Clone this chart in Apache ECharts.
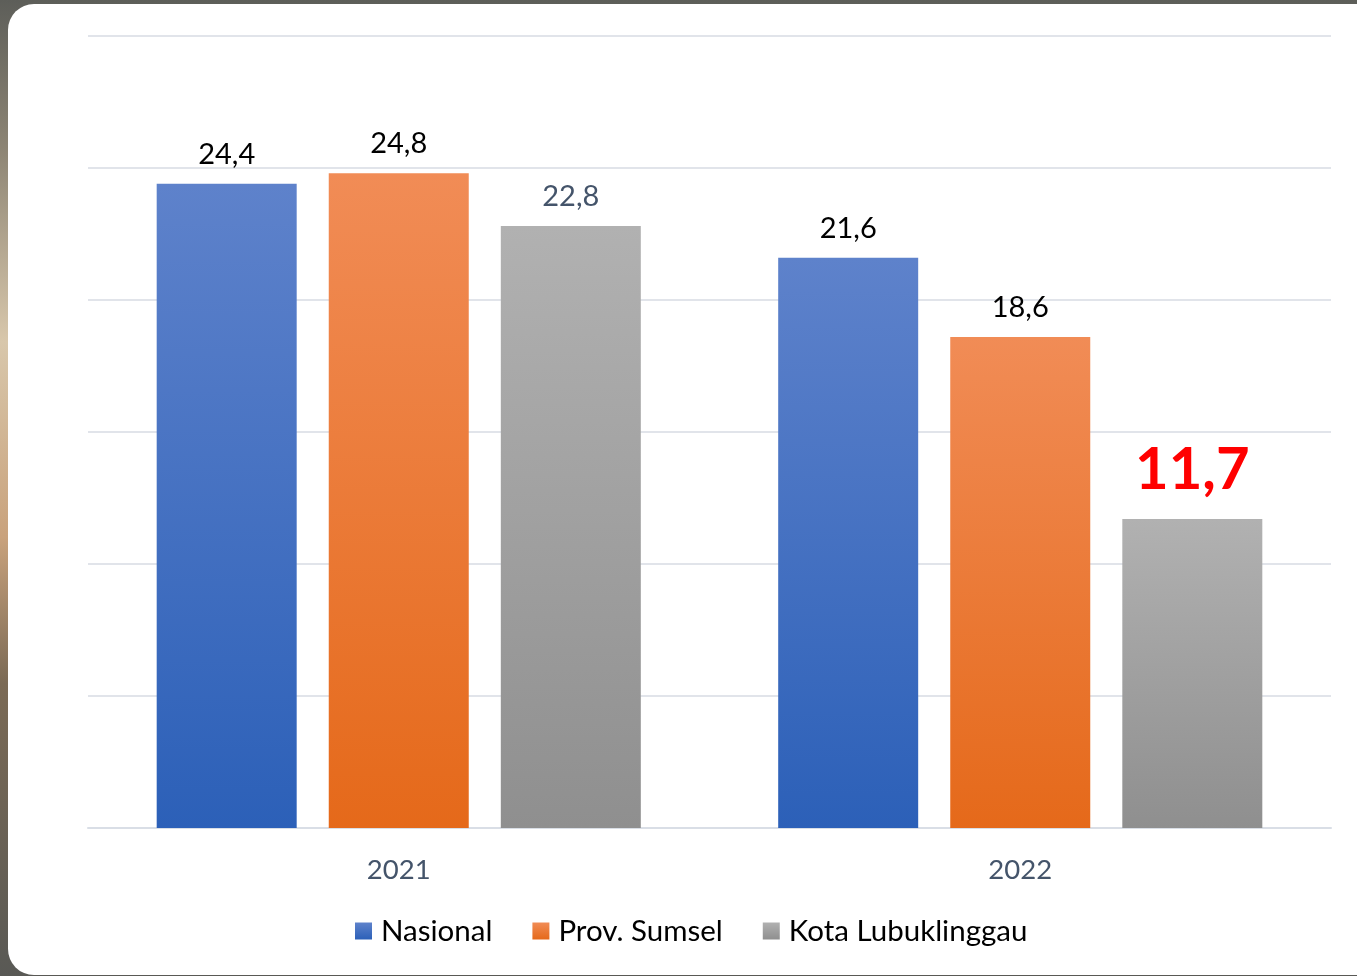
<!DOCTYPE html>
<html>
<head>
<meta charset="utf-8">
<script src="https://cdn.jsdelivr.net/npm/echarts@6/dist/echarts.min.js"></script>
<style>
  html, body { margin: 0; padding: 0; }
  body {
    width: 1357px; height: 976px; overflow: hidden; position: relative;
    background: linear-gradient(to bottom, #5d5e59 0%, #8c8474 15%, #d8c7ab 35%, #c9a27c 55%, #7b6a55 70%, #595955 100%);
  }
  #card {
    position: absolute; left: 8px; top: 4px; width: 1380px; height: 971px;
    background: #ffffff; border-radius: 26px;
  }
  #echartsShow { position: absolute; left: 0; top: 0; width: 1357px; height: 976px; }
</style>
</head>
<body>
<div id="card"></div>
<div id="echartsShow"></div>
<script>
var years = ['2021', '2022'];
var nasional = [24.4, 21.6];
var sumsel = [24.8, 18.6];
var lubuklinggau = [22.8, 11.7];

function grad(top, bottom) {
    return new echarts.graphic.LinearGradient(0, 0, 0, 1, [
        {offset: 0, color: top},
        {offset: 1, color: bottom}
    ]);
}
function fmt(v) {
    return String(v).replace('.', ',');
}

var echartsShow = echarts.init(document.getElementById('echartsShow'));
var option = {
    textStyle: {fontFamily: 'Lato'},
    legend: {
        left: 350,
        top: 911,
        itemWidth: 17,
        itemHeight: 17,
        itemGap: 40,
        icon: 'rect',
        textStyle: {fontSize: 29.5, color: '#000000', fontFamily: 'Lato', padding: [0, 0, 0, 4]},
        data: ['Nasional', 'Prov. Sumsel', 'Kota Lubuklinggau']
    },
    grid: {
        left: 88,
        right: 26,
        top: 36,
        bottom: 148
    },
    xAxis: [{
        type: 'category',
        data: years,
        axisLine: {lineStyle: {color: '#D9DEE6', width: 2}},
        axisTick: {show: false},
        axisLabel: {fontSize: 27.5, color: '#44546A', margin: 28, fontFamily: 'Lato'}
    }],
    yAxis: [{
        type: 'value',
        min: 0,
        max: 30,
        interval: 5,
        axisLabel: {show: false},
        axisLine: {show: false},
        axisTick: {show: false},
        splitLine: {lineStyle: {color: '#E1E4EA', width: 2}}
    }],
    series: [{
            name: 'Nasional',
            type: 'bar',
            barWidth: 140,
            barGap: '22.9%',
            data: nasional,
            itemStyle: {color: grad('#5E82CB', '#2C60B8')},
            label: {
                show: true, position: 'top', distance: 15,
                fontSize: 29, color: '#000000', fontFamily: 'Lato',
                formatter: function (p) { return fmt(p.value); }
            }
        },
        {
            name: 'Prov. Sumsel',
            type: 'bar',
            barWidth: 140,
            barGap: '22.9%',
            data: sumsel,
            itemStyle: {color: grad('#F18C56', '#E5691A')},
            label: {
                show: true, position: 'top', distance: 15,
                fontSize: 29, color: '#000000', fontFamily: 'Lato',
                formatter: function (p) { return fmt(p.value); }
            }
        },
        {
            name: 'Kota Lubuklinggau',
            type: 'bar',
            barWidth: 140,
            barGap: '22.9%',
            data: [
                {value: lubuklinggau[0], label: {fontSize: 29, color: '#44546A', fontWeight: 'normal', distance: 15}},
                {value: lubuklinggau[1], label: {fontSize: 58, color: '#FF0000', fontWeight: 'bold', distance: 20}}
            ],
            itemStyle: {color: grad('#B1B1B1', '#8F8F8F')},
            label: {
                show: true, position: 'top', fontFamily: 'Lato',
                formatter: function (p) { return fmt(p.value); }
            }
        }
    ]
};
echartsShow.setOption(option);
</script>
</body>
</html>
